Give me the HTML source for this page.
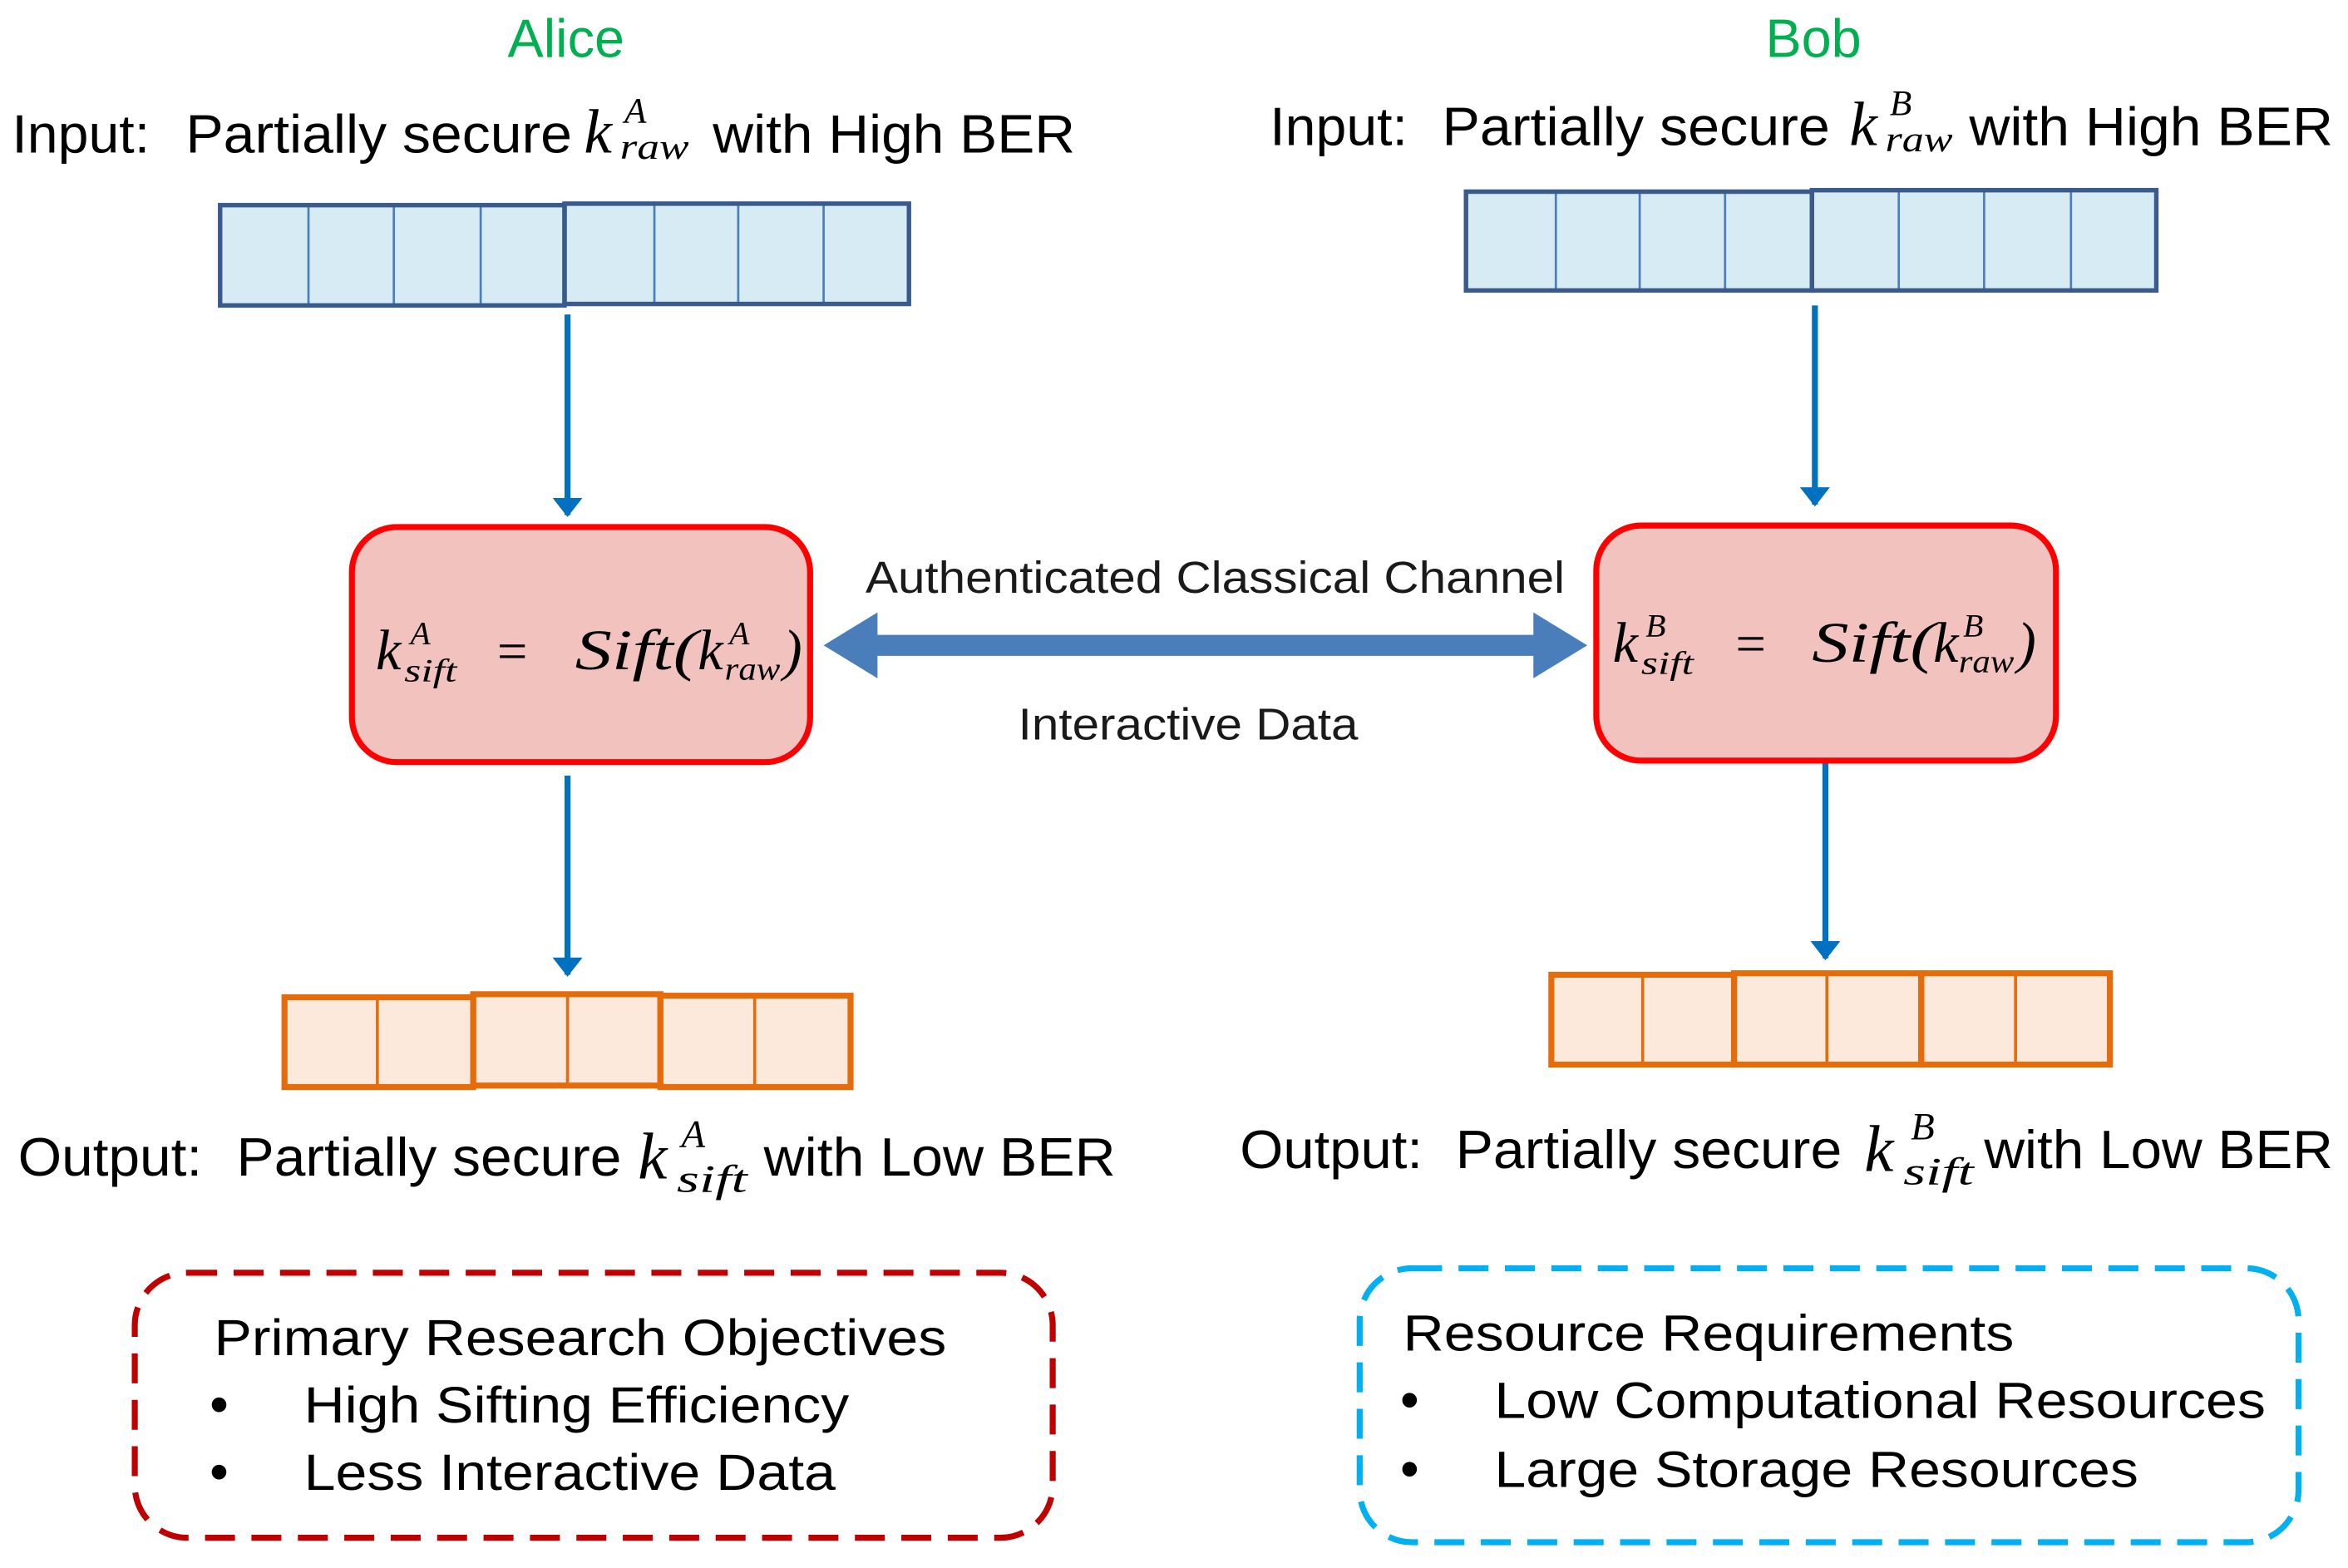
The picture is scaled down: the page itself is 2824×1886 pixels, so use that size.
<!DOCTYPE html>
<html><head><meta charset="utf-8"><style>
html,body{margin:0;padding:0;background:#fff;}
svg{display:block;}
.t{font-family:"Liberation Sans",Arial,sans-serif;fill:#000;}
.m{font-family:"Liberation Serif",serif;font-style:italic;fill:#000;}
</style></head><body>
<svg width="2824" height="1886" viewBox="0 0 1568 1047.2" preserveAspectRatio="none" xmlns="http://www.w3.org/2000/svg">
<defs>
<marker id="ah" viewBox="0 0 10 10" refX="9" refY="5" markerWidth="3.2" markerHeight="5" orient="auto" markerUnits="strokeWidth" preserveAspectRatio="none">
<path d="M0,0 L10,5 L0,10 z" fill="#0070c0"/></marker>
</defs>

<text class="t" x="378" y="38" font-size="36" text-anchor="middle" style="fill:#00b050">Alice</text>
<text class="t" x="1211" y="38" font-size="36" text-anchor="middle" style="fill:#00b050">Bob</text>

<text class="t" x="8" y="102" font-size="36" textLength="92" lengthAdjust="spacingAndGlyphs">Input:</text>
<text class="t" x="124" y="102" font-size="36" textLength="258" lengthAdjust="spacingAndGlyphs">Partially secure</text>
<text class="m" x="390" y="102" font-size="42">k</text>
<text class="m" x="417" y="82" font-size="24">A</text>
<text class="m" x="414" y="106" font-size="24" textLength="46" lengthAdjust="spacingAndGlyphs">raw</text>
<text class="t" x="476" y="102" font-size="36" textLength="242" lengthAdjust="spacingAndGlyphs">with High BER</text>

<text class="t" x="848" y="97" font-size="36" textLength="92" lengthAdjust="spacingAndGlyphs">Input:</text>
<text class="t" x="963" y="97" font-size="36" textLength="259" lengthAdjust="spacingAndGlyphs">Partially secure</text>
<text class="m" x="1235" y="97" font-size="42">k</text>
<text class="m" x="1262" y="77" font-size="24">B</text>
<text class="m" x="1259" y="101" font-size="24" textLength="45" lengthAdjust="spacingAndGlyphs">raw</text>
<text class="t" x="1315" y="97" font-size="36" textLength="243" lengthAdjust="spacingAndGlyphs">with High BER</text>

<g fill="#d6ebf3">
<rect x="147" y="137" width="230" height="67"/>
<rect x="377" y="136" width="230" height="67"/>
</g>
<g stroke="#4a7ec0" stroke-width="1.5">
<line x1="206" y1="137" x2="206" y2="204"/><line x1="263" y1="137" x2="263" y2="204"/><line x1="321" y1="137" x2="321" y2="204"/>
<line x1="437" y1="136" x2="437" y2="203"/><line x1="493" y1="136" x2="493" y2="203"/><line x1="550" y1="136" x2="550" y2="203"/>
</g>
<g fill="none" stroke="#3a5a8c" stroke-width="3">
<rect x="147" y="137" width="230" height="67"/>
<rect x="377" y="136" width="230" height="67"/>
</g>

<g fill="#d6ebf3">
<rect x="979" y="128" width="231" height="66"/>
<rect x="1210" y="127" width="230" height="67"/>
</g>
<g stroke="#4a7ec0" stroke-width="1.5">
<line x1="1039" y1="128" x2="1039" y2="194"/><line x1="1095" y1="128" x2="1095" y2="194"/><line x1="1152" y1="128" x2="1152" y2="194"/>
<line x1="1268" y1="127" x2="1268" y2="194"/><line x1="1325" y1="127" x2="1325" y2="194"/><line x1="1383" y1="127" x2="1383" y2="194"/>
</g>
<g fill="none" stroke="#3a5a8c" stroke-width="3">
<rect x="979" y="128" width="231" height="66"/>
<rect x="1210" y="127" width="230" height="67"/>
</g>

<g stroke="#0070c0" stroke-width="4" marker-end="url(#ah)">
<line x1="379" y1="210" x2="379" y2="344"/>
<line x1="379" y1="518" x2="379" y2="651"/>
<line x1="1212" y1="204" x2="1212" y2="337"/>
<line x1="1219" y1="510" x2="1219" y2="640"/>
</g>

<rect x="235" y="352" width="306" height="157" rx="30" fill="#f2c2bf" stroke="#ff0000" stroke-width="4"/>
<rect x="1066" y="351" width="307" height="157" rx="30" fill="#f2c2bf" stroke="#ff0000" stroke-width="4"/>

<text class="m" x="251" y="447" font-size="38">k</text>
<text class="m" x="274" y="430" font-size="22">A</text>
<text class="m" x="270" y="455" font-size="22" textLength="35" lengthAdjust="spacingAndGlyphs">sift</text>
<text class="m" x="332" y="447" font-size="36" style="font-style:normal">=</text>
<text class="m" x="384" y="447" font-size="38" textLength="82" lengthAdjust="spacingAndGlyphs">Sift(</text>
<text class="m" x="466" y="447" font-size="38">k</text>
<text class="m" x="487" y="430" font-size="22">A</text>
<text class="m" x="484" y="454" font-size="22" textLength="37" lengthAdjust="spacingAndGlyphs">raw</text>
<text class="m" x="523" y="447" font-size="38">)</text>

<text class="m" x="1077" y="442" font-size="38">k</text>
<text class="m" x="1099" y="425" font-size="22">B</text>
<text class="m" x="1096" y="450" font-size="22" textLength="35" lengthAdjust="spacingAndGlyphs">sift</text>
<text class="m" x="1159" y="442" font-size="36" style="font-style:normal">=</text>
<text class="m" x="1210" y="442" font-size="38" textLength="82" lengthAdjust="spacingAndGlyphs">Sift(</text>
<text class="m" x="1291" y="442" font-size="38">k</text>
<text class="m" x="1311" y="425" font-size="22">B</text>
<text class="m" x="1308" y="449" font-size="22" textLength="37" lengthAdjust="spacingAndGlyphs">raw</text>
<text class="m" x="1347" y="442" font-size="38">)</text>

<text class="t" x="578" y="396" font-size="30" textLength="467" lengthAdjust="spacingAndGlyphs" style="fill:#1a1a1a">Authenticated Classical Channel</text>
<path d="M550,431 L586,409 L586,424 L1024,424 L1024,409 L1060,431 L1024,453 L1024,438 L586,438 L586,453 z" fill="#4a7ebb"/>
<text class="t" x="680" y="494" font-size="30" textLength="227" lengthAdjust="spacingAndGlyphs" style="fill:#1a1a1a">Interactive Data</text>

<g fill="#fce9dc"><rect x="190" y="665" width="378" height="61"/><rect x="1036" y="650" width="373" height="61"/></g>
<g stroke="#e46c0a" stroke-width="2">
<line x1="252" y1="665" x2="252" y2="726"/><line x1="379" y1="664" x2="379" y2="725"/><line x1="504" y1="665" x2="504" y2="726"/>
<line x1="1097" y1="650" x2="1097" y2="711"/><line x1="1220" y1="650" x2="1220" y2="711"/><line x1="1346" y1="650" x2="1346" y2="711"/>
</g>
<g fill="none" stroke="#e46c0a" stroke-width="4">
<rect x="190" y="666" width="126" height="60"/><rect x="316" y="664" width="125" height="61"/><rect x="441" y="665" width="127" height="61"/>
<rect x="1036" y="651" width="122" height="60"/><rect x="1158" y="650" width="125" height="61"/><rect x="1283" y="650" width="126" height="61"/>
</g>

<text class="t" x="12" y="785" font-size="36" textLength="123" lengthAdjust="spacingAndGlyphs">Output:</text>
<text class="t" x="158" y="785" font-size="36" textLength="257" lengthAdjust="spacingAndGlyphs">Partially secure</text>
<text class="m" x="426" y="787" font-size="44">k</text>
<text class="m" x="455" y="766" font-size="26">A</text>
<text class="m" x="452" y="796" font-size="26" textLength="47" lengthAdjust="spacingAndGlyphs">sift</text>
<text class="t" x="510" y="785" font-size="36" textLength="235" lengthAdjust="spacingAndGlyphs">with Low BER</text>

<text class="t" x="828" y="780" font-size="36" textLength="122" lengthAdjust="spacingAndGlyphs">Output:</text>
<text class="t" x="972" y="780" font-size="36" textLength="258" lengthAdjust="spacingAndGlyphs">Partially secure</text>
<text class="m" x="1245" y="782" font-size="44">k</text>
<text class="m" x="1276" y="761" font-size="26">B</text>
<text class="m" x="1271" y="791" font-size="26" textLength="47" lengthAdjust="spacingAndGlyphs">sift</text>
<text class="t" x="1325" y="780" font-size="36" textLength="233" lengthAdjust="spacingAndGlyphs">with Low BER</text>

<rect x="90" y="850" width="613" height="177" rx="35" fill="none" stroke="#c00000" stroke-width="4" stroke-dasharray="20 11"/>
<rect x="908" y="847" width="627" height="183" rx="35" fill="none" stroke="#00b0f0" stroke-width="4" stroke-dasharray="20 11"/>

<text class="t" x="143" y="905" font-size="34" textLength="489" lengthAdjust="spacingAndGlyphs">Primary Research Objectives</text>
<text class="t" x="140" y="950" font-size="36">•</text>
<text class="t" x="203" y="950" font-size="34" textLength="364" lengthAdjust="spacingAndGlyphs">High Sifting Efficiency</text>
<text class="t" x="140" y="995" font-size="36">•</text>
<text class="t" x="203" y="995" font-size="34" textLength="355" lengthAdjust="spacingAndGlyphs">Less Interactive Data</text>

<text class="t" x="937" y="902" font-size="34" textLength="408" lengthAdjust="spacingAndGlyphs">Resource Requirements</text>
<text class="t" x="935" y="947" font-size="36">•</text>
<text class="t" x="998" y="947" font-size="34" textLength="515" lengthAdjust="spacingAndGlyphs">Low Computational Resources</text>
<text class="t" x="935" y="993" font-size="36">•</text>
<text class="t" x="998" y="993" font-size="34" textLength="430" lengthAdjust="spacingAndGlyphs">Large Storage Resources</text>
</svg>
</body></html>
